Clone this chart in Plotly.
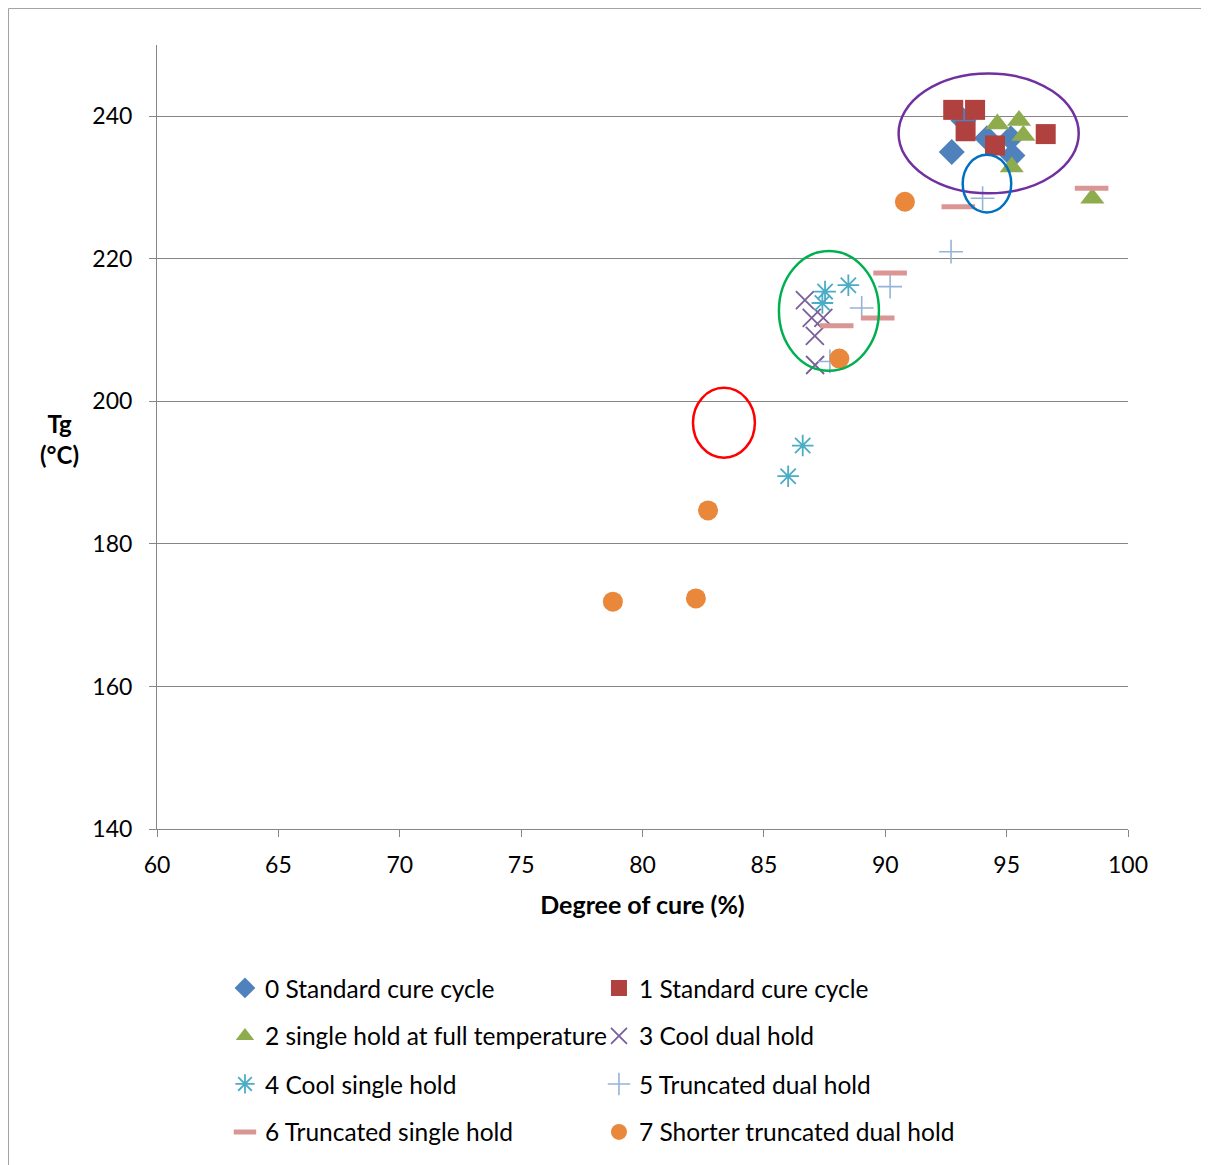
import plotly.graph_objects as go

# ---- data ----
s0_name = "0 Standard cure cycle"
s0_x = [92.74, 93.22, 94.19, 95.17, 95.24]
s0_y = [235.0, 239.4, 236.9, 236.9, 234.5]

s1_name = "1 Standard cure cycle"
s1_x = [92.80, 93.70, 93.31, 94.52, 96.61]
s1_y = [240.9, 240.9, 237.9, 235.9, 237.5]

s2_name = "2 single hold at full temperature"
s2_x = [94.62, 95.51, 95.69, 95.21, 98.53]
s2_y = [238.9, 239.4, 237.3, 232.9, 228.5]

s3_name = "3 Cool dual hold"
s3_x = [86.69, 86.97, 87.45, 87.10, 87.11]
s3_y = [214.2, 211.7, 211.7, 209.2, 205.1]

s4_name = "4 Cool single hold"
s4_x = [87.52, 88.48, 87.41, 86.60, 86.00]
s4_y = [215.4, 216.3, 213.8, 193.8, 189.5]

s5_name = "5 Truncated dual hold"
s5_x = [94.01, 92.71, 90.20, 89.03, 87.72]
s5_y = [228.5, 221.0, 216.1, 213.1, 205.6]

s6_name = "6 Truncated single hold"
s6_x = [98.50, 93.01, 90.20, 89.69, 88.00]
s6_y = [229.9, 227.3, 218.0, 211.7, 210.6]

s7_name = "7 Shorter truncated dual hold"
s7_x = [90.81, 88.11, 82.70, 82.20, 78.78]
s7_y = [228.0, 206.0, 184.7, 172.35, 171.9]

x_ticks = [60, 65, 70, 75, 80, 85, 90, 95, 100]
y_ticks = [140, 160, 180, 200, 220, 240]

# highlight ellipses: (x0, x1, y0, y1, colour)
ellipse_x0 = [90.55, 93.19, 85.62, 82.08]
ellipse_x1 = [97.97, 95.19, 89.74, 84.63]
ellipse_y0 = [229.2, 226.5, 204.3, 192.1]
ellipse_y1 = [246.0, 234.6, 221.1, 201.9]
ellipse_col = ["#7030A0", "#0070C0", "#00B050", "#FF0000"]

FONT = "Lato, Carlito, Calibri, sans-serif"
GRID = "#868686"

series = [
    (s0_name, s0_x, s0_y, dict(symbol="diamond", size=20, color="#4F81BD"), "legend"),
    (s1_name, s1_x, s1_y, dict(symbol="square", size=20, color="#B0413E"), "legend"),
    (s2_name, s2_x, s2_y, dict(symbol="triangle-up", size=21, color="#8EAC4E"), "legend2"),
    (s3_name, s3_x, s3_y, dict(symbol="x-thin", size=18, color="#7A5F9A",
                               line=dict(width=1.8, color="#7A5F9A")), "legend2"),
    (s4_name, s4_x, s4_y, dict(symbol="asterisk", size=18, color="#4BACC6",
                               line=dict(width=1.8, color="#4BACC6")), "legend3"),
    (s5_name, s5_x, s5_y, dict(symbol="cross-thin", size=17, color="#95B3D7",
                               line=dict(width=1.6, color="#95B3D7")), "legend3"),
    (s6_name, s6_x, s6_y, dict(symbol="line-ew", size=24, color="#D99694",
                               line=dict(width=5, color="#D99694")), "legend4"),
    (s7_name, s7_x, s7_y, dict(symbol="circle", size=20, color="#E9873A"), "legend4"),
]

fig = go.Figure()
for name, xs, ys, mk, lg in series:
    fig.add_trace(go.Scatter(x=xs, y=ys, mode="markers", name=name,
                             marker=mk, legend=lg))

for x0, x1, y0, y1, c in zip(ellipse_x0, ellipse_x1, ellipse_y0, ellipse_y1, ellipse_col):
    fig.add_shape(type="circle", xref="x", yref="y", x0=x0, x1=x1, y0=y0, y1=y1,
                  line=dict(color=c, width=2.5), layer="above")

# outer border
fig.add_shape(type="rect", xref="paper", yref="paper",
              x0=-0.1529, x1=1.0824, y0=-0.44, y1=1.0465,
              line=dict(color="#A0A0A0", width=1))

fig.add_annotation(xref="paper", yref="paper", x=-0.0999, y=0.498,
                   xanchor="center", yanchor="middle",
                   text="<b>Tg<br>(°C)</b>", showarrow=False,
                   font=dict(family=FONT, size=24, color="#000000"), align="center")

leg_common = dict(orientation="h", x=0.0700, xanchor="left", yanchor="middle",
                  entrywidth=329, entrywidthmode="pixels", bgcolor="rgba(0,0,0,0)",
                  font=dict(family=FONT, size=24.5, color="#000000"), traceorder="normal")
legend_rows = [-0.2013, -0.2624, -0.3236, -0.3847]

fig.update_layout(
    width=1201, height=1157,
    margin=dict(l=149, r=81, t=37, b=335),
    plot_bgcolor="white", paper_bgcolor="white",
    font=dict(family=FONT, size=23, color="#000000"),
    showlegend=True,
    legend=dict(y=legend_rows[0], **leg_common),
    legend2=dict(y=legend_rows[1], **leg_common),
    legend3=dict(y=legend_rows[2], **leg_common),
    legend4=dict(y=legend_rows[3], **leg_common),
    xaxis=dict(range=[60, 100], tickvals=x_ticks, ticktext=[str(v) for v in x_ticks],
               showgrid=False, zeroline=False, showline=True, linecolor=GRID, linewidth=1,
               ticks="outside", ticklen=7, tickcolor=GRID, ticklabelstandoff=8,
               tickfont=dict(family=FONT, size=23),
               title=dict(text="<b>Degree of cure (%)</b>", standoff=19,
                          font=dict(family=FONT, size=25))),
    yaxis=dict(range=[140, 250], tickvals=y_ticks, ticktext=[str(v) for v in y_ticks],
               showgrid=True, gridcolor=GRID, gridwidth=1, zeroline=False,
               showline=True, linecolor=GRID, linewidth=1,
               ticks="outside", ticklen=7, tickcolor=GRID, ticklabelstandoff=12,
               tickfont=dict(family=FONT, size=23)),
)

fig.write_html("out.html")
